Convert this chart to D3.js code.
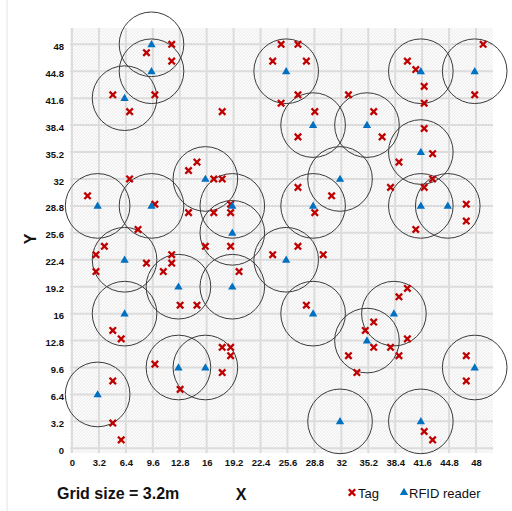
<!DOCTYPE html>
<html><head><meta charset="utf-8">
<script src="https://cdn.jsdelivr.net/npm/d3@7"></script>
<style>html,body{margin:0;padding:0;background:#fff;}svg{display:block;}</style>
</head><body>
<script>
const ticks = [0,3.2,6.4,9.6,12.8,16,19.2,22.4,25.6,28.8,32,35.2,38.4,41.6,44.8,48];
const tickLabels = ["0","3.2","6.4","9.6","12.8","16","19.2","22.4","25.6","28.8","32","35.2","38.4","41.6","44.8","48"];
const readerX = [9.6,9.6,6.4,16,3.2,9.6,19.2,19.2,25.6,41.6,48,28.8,35.2,41.6,32,28.8,41.6,44.8,6.4,12.8,19.2,6.4,12.8,16,3.2,25.6,28.8,38.4,35.2,48,32,41.6];
const readerY = [48,44.8,41.6,32,28.8,28.8,28.8,25.6,44.8,44.8,44.8,38.4,38.4,35.2,32,28.8,28.8,28.8,22.4,19.2,19.2,16,9.6,9.6,6.4,22.4,16,16,12.8,9.6,3.2,3.2];
const tagX = [12,9,12,5,10,7,18,15,14,7,17,18,2,10,19,14,17,19,8,4,16,19,
  25,27,24,28,27,25,29,36,27,37,33,40,41,42,42,49,48,42,43,39,43,38,42,27,31,29,47,47,41,27,
  3,3,9,12,12,11,13,15,20,24,5,6,18,19,19,18,10,13,5,5,6,
  30,28,40,39,36,35,36,38,40,39,33,34,47,47,42,43];
const tagY = [48,47,46,42,42,40,40,34,33,32,32,32,30,29,29,28,28,28,26,24,24,24,
  48,48,46,46,42,41,40,40,37,37,42,46,45,43,41,48,42,38,35,34,32,31,31,31,30,28,29,27,26,24,
  23,21,22,23,22,21,17,17,21,23,14,13,12,12,11,9,10,7,8,3,1,
  23,17,19,18,15,14,12,12,13,11,11,9,11,8,2,1];
const rangeRadius = 3.84;

const W = 512, H = 511;
const svg = d3.select("body").append("svg").attr("width", W).attr("height", H)
  .style("font-family", "'Liberation Sans', Arial, sans-serif");

const x = d3.scaleLinear().domain([0,48]).range([72,476]);
const y = d3.scaleLinear().domain([0,48]).range([448.3,44.3]);

// frame line at left
svg.append("line").attr("x1",7).attr("x2",7).attr("y1",0).attr("y2",H).attr("stroke","#e3e3e3").attr("stroke-width",1);

const defs = svg.append("defs");
const pat = defs.append("pattern").attr("id","tex").attr("width",3).attr("height",3).attr("patternUnits","userSpaceOnUse");
pat.append("rect").attr("width",3).attr("height",3).attr("fill","#fbfbfb");
pat.append("path").attr("d","M0,3 L3,0").attr("stroke","#e8e8e8").attr("stroke-width",0.8);

const px0 = 70, px1 = 493, py0 = 28, py1 = 453;
svg.append("rect").attr("x",px0).attr("y",py0).attr("width",px1-px0).attr("height",py1-py0).attr("fill","url(#tex)");

// gridlines
const grid = svg.append("g");
grid.selectAll("line.v").data(ticks).join("line").attr("class","v")
  .attr("x1",d=>x(d)).attr("x2",d=>x(d)).attr("y1",py0).attr("y2",py1)
  .attr("stroke","#dcdcdc").attr("stroke-width",2);
grid.selectAll("line.h").data(ticks).join("line").attr("class","h")
  .attr("y1",d=>y(d)).attr("y2",d=>y(d)).attr("x1",px0).attr("x2",px1)
  .attr("stroke","#dcdcdc").attr("stroke-width",2);

// axes (labels only)
const xAxis = d3.axisBottom(x).tickValues(ticks).tickFormat((d,i)=>tickLabels[i]).tickSize(0).tickPadding(0);
const gx = svg.append("g").attr("transform","translate(0,459)").call(xAxis);
gx.select(".domain").remove();
gx.selectAll("text").attr("font-size","9.5px").attr("font-weight","bold").attr("fill","#111").attr("font-family","'Liberation Sans', Arial, sans-serif");

const yAxis = d3.axisLeft(y).tickValues(ticks).tickFormat((d,i)=>tickLabels[i]).tickSize(0).tickPadding(0);
const gy = svg.append("g").attr("transform","translate(64,2)").call(yAxis);
gy.select(".domain").remove();
gy.selectAll("text").attr("font-size","9.5px").attr("font-weight","bold").attr("fill","#111").attr("font-family","'Liberation Sans', Arial, sans-serif");

// marks
const marks = svg.append("g").attr("transform","translate(-1.3,0)");
const readers = readerX.map((v,i)=>({x:v,y:readerY[i]}));
const tags = tagX.map((v,i)=>({x:v,y:tagY[i]}));

marks.selectAll("circle.range").data(readers).join("circle").attr("class","range")
  .attr("cx",d=>x(d.x)).attr("cy",d=>y(d.y))
  .attr("r", x(rangeRadius)-x(0))
  .attr("fill","none").attr("stroke","#3a3a3a").attr("stroke-width",1);

const xPath = "M-2.4,-2.4L2.4,2.4M-2.4,2.4L2.4,-2.4";
marks.selectAll("path.tag").data(tags).join("path").attr("class","tag")
  .attr("d", xPath).attr("transform",d=>`translate(${x(d.x)},${y(d.y)})`)
  .attr("stroke","#c00000").attr("stroke-width",2.3).attr("stroke-linecap","square").attr("fill","none");

const tri = d3.symbol().type(d3.symbolTriangle).size(30);
marks.selectAll("path.reader").data(readers).join("path").attr("class","reader")
  .attr("d", tri).attr("transform",d=>`translate(${x(d.x)},${y(d.y)+0.5})`)
  .attr("fill","#0070c0");

// titles
svg.append("text").attr("x",57).attr("y",499).attr("font-size","16px").attr("font-weight","bold").attr("fill","#111").text("Grid size = 3.2m");
svg.append("text").attr("x",241).attr("y",500).attr("text-anchor","middle").attr("font-size","16px").attr("font-weight","bold").attr("fill","#111").text("X");
svg.append("text").attr("transform","translate(36,239) rotate(-90)").attr("text-anchor","middle").attr("font-size","16px").attr("font-weight","bold").attr("fill","#111").text("Y");

// legend
const lg = svg.append("g");
lg.append("path").attr("d",xPath).attr("transform","translate(352,492.5)").attr("stroke","#c00000").attr("stroke-width",2.3).attr("stroke-linecap","square");
lg.append("text").attr("x",358).attr("y",497.5).attr("font-size","13px").attr("fill","#111").text("Tag");
lg.append("path").attr("d",tri).attr("transform","translate(404,492.5)").attr("fill","#0070c0");
lg.append("text").attr("x",409).attr("y",497.5).attr("font-size","13px").attr("fill","#111").text("RFID reader");
</script>
</body></html>
